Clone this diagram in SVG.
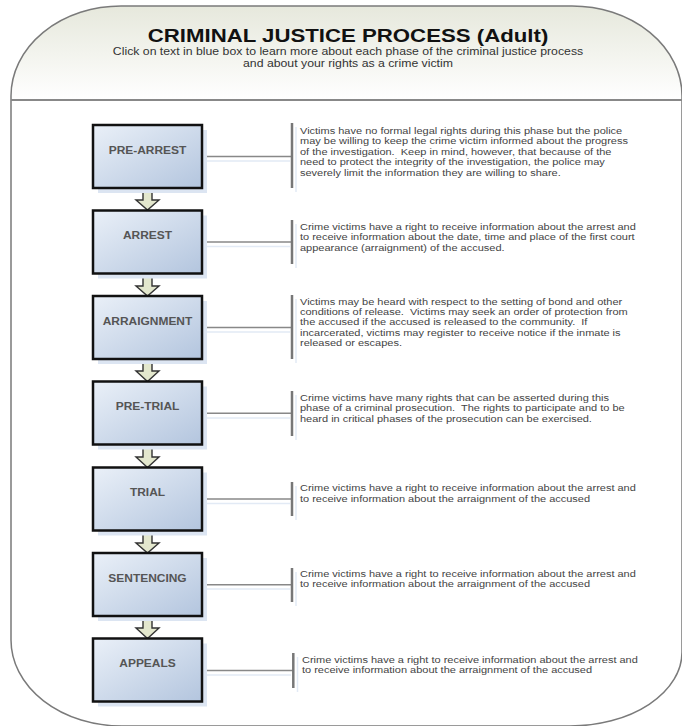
<svg xmlns="http://www.w3.org/2000/svg" width="682" height="726" viewBox="0 0 682 726">
<defs>
<linearGradient id="hdr" x1="0" y1="0" x2="0" y2="1">
<stop offset="0" stop-color="#e6e8dc"/>
<stop offset="1" stop-color="#ffffff"/>
</linearGradient>
<linearGradient id="boxg" x1="0" y1="0" x2="1" y2="1">
<stop offset="0" stop-color="#eaf0f8"/>
<stop offset="1" stop-color="#b3c5de"/>
</linearGradient>
<style>
.box{fill:url(#boxg);stroke:#111;stroke-width:2.5}
.shd{fill:#dce5f2}
.lbl{font-family:"Liberation Sans",Arial,sans-serif;font-weight:bold;font-size:10.4px;fill:#555;text-anchor:middle}
.desc{font-family:"Liberation Sans",Arial,sans-serif;font-size:9.4px;fill:#444;white-space:pre}
.conn{stroke:#888;stroke-width:1.5;fill:none}
.bar{stroke:#777;stroke-width:2.5;fill:none}
.cshd{stroke:#e2eaf5;stroke-width:1.5;fill:none}
.arw{fill:#e3e7cd;stroke:#333;stroke-width:1.4;stroke-linejoin:miter}
</style>
</defs>
<rect width="682" height="726" fill="#ffffff"/>
<g id="frame">
<path d="M11,96 A110,90 0 0 1 121,6 L572,6 A110,90 0 0 1 682,96 L682,100 L11,100 Z" fill="url(#hdr)"/>
<path d="M11,96 A110,90 0 0 1 121,6 L572,6 A110,90 0 0 1 682,96 L682,652 A112,74 0 0 1 570,726 L122,726 A111,86 0 0 1 11,640 Z" fill="none" stroke="#7a7a7a" stroke-width="1.5"/>
<line x1="11" y1="100" x2="682" y2="100" stroke="#888" stroke-width="2"/>
</g>
<g id="header">
<text transform="translate(348,41.5) scale(1.17,1)" x="0" y="0" font-family="Liberation Sans, Arial, sans-serif" font-weight="bold" font-size="19" fill="#111" text-anchor="middle">CRIMINAL JUSTICE PROCESS (Adult)</text>
<text transform="translate(348,55.3) scale(1.17,1)" x="0" y="0" font-family="Liberation Sans, Arial, sans-serif" font-size="10.5" fill="#333" text-anchor="middle">Click on text in blue box to learn more about each phase of the criminal justice process</text>
<text transform="translate(348,66.8) scale(1.17,1)" x="0" y="0" font-family="Liberation Sans, Arial, sans-serif" font-size="10.5" fill="#333" text-anchor="middle">and about your rights as a crime victim</text>
</g>
<g id="connectors">
<polygon class="arw" points="143,188 152,188 152,200 159,200 147.5,210 136,200 143,200"/>
<polygon class="arw" points="143,274 152,274 152,286 159,286 147.5,296 136,286 143,286"/>
<polygon class="arw" points="143,359 152,359 152,371 159,371 147.5,381.5 136,371 143,371"/>
<polygon class="arw" points="143,445 152,445 152,457 159,457 147.5,467.5 136,457 143,457"/>
<polygon class="arw" points="143,531 152,531 152,543 159,543 147.5,553 136,543 143,543"/>
<polygon class="arw" points="143,616 152,616 152,628 159,628 147.5,638.5 136,628 143,628"/>
<line class="cshd" x1="206" y1="161" x2="290" y2="161"/>
<line class="cshd" x1="206" y1="246.5" x2="290" y2="246.5"/>
<line class="cshd" x1="206" y1="332" x2="290" y2="332"/>
<line class="cshd" x1="206" y1="418" x2="290" y2="418"/>
<line class="cshd" x1="206" y1="503.5" x2="290" y2="503.5"/>
<line class="cshd" x1="206" y1="589" x2="290" y2="589"/>
<line class="cshd" x1="206" y1="675" x2="291" y2="675"/>
<line class="cshd" x1="296" y1="127" x2="296" y2="192"/>
<line class="cshd" x1="296" y1="224" x2="296" y2="268"/>
<line class="cshd" x1="296" y1="299" x2="296" y2="363"/>
<line class="cshd" x1="296" y1="395" x2="296" y2="440"/>
<line class="cshd" x1="296" y1="486" x2="296" y2="520"/>
<line class="cshd" x1="296" y1="572" x2="296" y2="606"/>
<line class="cshd" x1="297.5" y1="657" x2="297.5" y2="692"/>
<line class="conn" x1="202" y1="156.5" x2="292" y2="156.5"/>
<line class="conn" x1="202" y1="242" x2="292" y2="242"/>
<line class="conn" x1="202" y1="327.5" x2="292" y2="327.5"/>
<line class="conn" x1="202" y1="413.3" x2="292" y2="413.3"/>
<line class="conn" x1="202" y1="499" x2="292" y2="499"/>
<line class="conn" x1="202" y1="584.7" x2="292" y2="584.7"/>
<line class="conn" x1="202" y1="670.5" x2="293.3" y2="670.5"/>
<line class="bar" x1="292" y1="123" x2="292" y2="188"/>
<line class="bar" x1="292" y1="220" x2="292" y2="264"/>
<line class="bar" x1="292" y1="295" x2="292" y2="359"/>
<line class="bar" x1="292" y1="391" x2="292" y2="436"/>
<line class="bar" x1="292" y1="482" x2="292" y2="516"/>
<line class="bar" x1="292" y1="568" x2="292" y2="602"/>
<line class="bar" x1="293.3" y1="653" x2="293.3" y2="688"/>
</g>
<g id="pre-arrest">
<rect class="shd" x="98" y="130" width="109" height="63"/>
<rect class="box" x="93" y="125" width="109" height="63"/>
<text class="lbl" transform="translate(147.5,153.7) scale(1.15,1)">PRE-ARREST</text>
<text class="desc" transform="translate(300,134) scale(1.17,1)"><tspan x="0" y="0">Victims have no formal legal rights during this phase but the police</tspan><tspan x="0" y="10.4">may be willing to keep the crime victim informed about the progress</tspan><tspan x="0" y="20.8">of the investigation.  Keep in mind, however, that because of the</tspan><tspan x="0" y="31.2">need to protect the integrity of the investigation, the police may</tspan><tspan x="0" y="41.6">severely limit the information they are willing to share.</tspan></text>
</g>
<g id="arrest">
<rect class="shd" x="98" y="215.5" width="109" height="63"/>
<rect class="box" x="93" y="210.5" width="109" height="63"/>
<text class="lbl" transform="translate(147.5,239.2) scale(1.15,1)">ARREST</text>
<text class="desc" transform="translate(300,230) scale(1.17,1)"><tspan x="0" y="0">Crime victims have a right to receive information about the arrest and</tspan><tspan x="0" y="10.4">to receive information about the date, time and place of the first court</tspan><tspan x="0" y="20.8">appearance (arraignment) of the accused.</tspan></text>
</g>
<g id="arraignment">
<rect class="shd" x="98" y="301" width="109" height="63"/>
<rect class="box" x="93" y="296" width="109" height="63"/>
<text class="lbl" transform="translate(147.5,324.7) scale(1.15,1)">ARRAIGNMENT</text>
<text class="desc" transform="translate(300,304.5) scale(1.17,1)"><tspan x="0" y="0">Victims may be heard with respect to the setting of bond and other</tspan><tspan x="0" y="10.4">conditions of release.  Victims may seek an order of protection from</tspan><tspan x="0" y="20.8">the accused if the accused is released to the community.  If</tspan><tspan x="0" y="31.2">incarcerated, victims may register to receive notice if the inmate is</tspan><tspan x="0" y="41.6">released or escapes.</tspan></text>
</g>
<g id="pre-trial">
<rect class="shd" x="98" y="386.5" width="109" height="63"/>
<rect class="box" x="93" y="381.5" width="109" height="63"/>
<text class="lbl" transform="translate(147.5,410.2) scale(1.15,1)">PRE-TRIAL</text>
<text class="desc" transform="translate(300,401) scale(1.17,1)"><tspan x="0" y="0">Crime victims have many rights that can be asserted during this</tspan><tspan x="0" y="10.4">phase of a criminal prosecution.  The rights to participate and to be</tspan><tspan x="0" y="20.8">heard in critical phases of the prosecution can be exercised.</tspan></text>
</g>
<g id="trial">
<rect class="shd" x="98" y="472.5" width="109" height="63"/>
<rect class="box" x="93" y="467.5" width="109" height="63"/>
<text class="lbl" transform="translate(147.5,496.2) scale(1.15,1)">TRIAL</text>
<text class="desc" transform="translate(300,491.3) scale(1.17,1)"><tspan x="0" y="0">Crime victims have a right to receive information about the arrest and</tspan><tspan x="0" y="10.4">to receive information about the arraignment of the accused</tspan></text>
</g>
<g id="sentencing">
<rect class="shd" x="98" y="558" width="109" height="63"/>
<rect class="box" x="93" y="553" width="109" height="63"/>
<text class="lbl" transform="translate(147.5,581.7) scale(1.15,1)">SENTENCING</text>
<text class="desc" transform="translate(300,577) scale(1.17,1)"><tspan x="0" y="0">Crime victims have a right to receive information about the arrest and</tspan><tspan x="0" y="10.4">to receive information about the arraignment of the accused</tspan></text>
</g>
<g id="appeals">
<rect class="shd" x="98" y="643.5" width="109" height="63"/>
<rect class="box" x="93" y="638.5" width="109" height="63"/>
<text class="lbl" transform="translate(147.5,667.2) scale(1.15,1)">APPEALS</text>
<text class="desc" transform="translate(302,663) scale(1.17,1)"><tspan x="0" y="0">Crime victims have a right to receive information about the arrest and</tspan><tspan x="0" y="10.4">to receive information about the arraignment of the accused</tspan></text>
</g>
</svg>
